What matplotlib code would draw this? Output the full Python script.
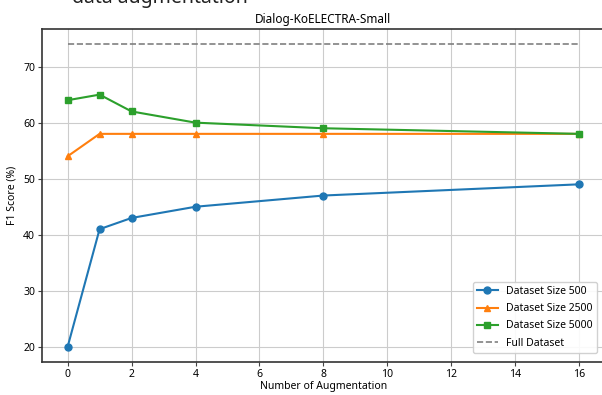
import matplotlib
matplotlib.use("Agg")
import matplotlib.pyplot as plt

plt.rcParams['font.family'] = ['Noto Sans', 'DejaVu Sans']

# number of augmentations per sample
aug = [0, 1, 2, 4, 8, 16]

# F1 scores (%)
f1_500 = [20, 41, 43, 45, 47, 49]
f1_2500 = [54, 58, 58, 58, 58, 58]
f1_5000 = [64, 65, 62, 60, 59, 58]
f1_full = 74

fig = plt.figure(figsize=(6.02, 3.95), dpi=100)
fig.text(0.12, 0.992, "data augmentation", fontsize=14, va="baseline", color="#222222")

ax = fig.add_axes([0.0698, 0.0835, 0.935, 0.843])
ax.plot(aug, f1_500, marker="o", markersize=5, color="#1f77b4", label="Dataset Size 500")
ax.plot(aug, f1_2500, marker="^", markersize=5, color="#ff7f0e", label="Dataset Size 2500")
ax.plot(aug, f1_5000, marker="s", markersize=5, color="#2ca02c", label="Dataset Size 5000")
ax.plot([aug[0], aug[-1]], [f1_full, f1_full], linestyle="--", color="gray", linewidth=1.2, label="Full Dataset")

ax.set_title("Dialog-KoELECTRA-Small", fontsize=8.5, pad=4)
ax.set_xlabel("Number of Augmentation", fontsize=7.5, labelpad=1)
ax.set_ylabel("F1 Score (%)", fontsize=7.5)
ax.tick_params(labelsize=7.5, color="#444444", length=3, pad=2)
ax.set_xticks(range(0, 17, 2))
ax.grid(True, color="#cccccc", linewidth=0.8)
for s in ax.spines.values():
    s.set_color("#333333")
    s.set_linewidth(1.2)

ax.legend(loc="lower right", bbox_to_anchor=(0.995, 0.012), fontsize=7.5,
          framealpha=0.9, labelspacing=0.6)

fig.savefig("out.png", dpi=100)
